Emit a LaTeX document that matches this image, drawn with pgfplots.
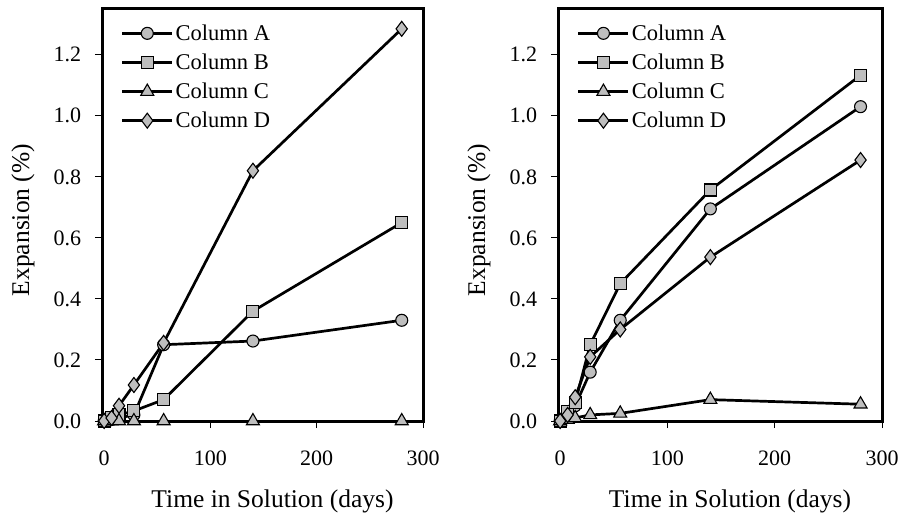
\documentclass[border=0pt]{standalone}
\usepackage{pgfplots}
\pgfplotsset{compat=1.18}
\usepackage{fontspec}
\setmainfont{Liberation Serif}
\definecolor{mk}{RGB}{190,190,190}

\pgfplotsset{
  myaxis/.style={
    scale only axis,
    width=321pt, height=412pt,
    xmin=-2, xmax=300, ymin=0, ymax=1.35,
    clip=false,
    line width=3pt,
    xtick={0,100,200,300},
    ytick={0,0.2,0.4,0.6,0.8,1.0,1.2},
    yticklabel style={/pgf/number format/fixed,/pgf/number format/fixed zerofill,/pgf/number format/precision=1},
    /pgf/number format/assume math mode=true,
    tick align=outside,
    xtick pos=left, ytick pos=left,
    major tick length=7pt,
    tick style={line width=1pt, black},
    ticklabel style={font=\fontsize{22}{22}\selectfont},
    xticklabel style={yshift=-18pt},
    yticklabel style={xshift=-9pt},
    xlabel={Time in Solution (days)},
    ylabel={Expansion (\%)},
    every axis x label/.style={at={(axis description cs:0.5,0)}, anchor=center, yshift=-80pt, xshift=10pt, font=\fontsize{25.5}{25.5}\selectfont},
    every axis y label/.style={at={(axis description cs:0,0.5)}, anchor=center, rotate=90, yshift=79pt, xshift=-5pt, font=\fontsize{25.5}{25.5}\selectfont},
    legend style={draw=none, fill=none, at={(axis description cs:0.045,0.975)}, anchor=north west,
      font=\fontsize{22.5}{22.5}\selectfont, row sep=8pt},
    legend cell align=left,
    legend image code/.code={\draw[mark repeat=2,mark phase=2] plot coordinates {(0pt,0pt)(25pt,0pt)(50pt,0pt)};},
  },
  ser/.style={black, line width=2.7pt, mark options={fill=mk, draw=black, line width=1.1pt, solid}},
}

\pgfplotstableread{
t    A     B     C     D
0    0     0     0     0
7    0.005 0.01  0     0.01
14   0.01  0.02  0     0.05
28   0.02  0.033 0     0.118
56   0.25  0.07  0     0.256
140  0.262 0.36  0     0.82
280  0.33  0.65  0     1.285
}\leftdata

\pgfplotstableread{
t    A     B     C     D
0    0     0     0     0
7    0.02  0.03  0.005 0.02
14   0.05  0.06  0.01  0.078
28   0.16  0.25  0.02  0.21
56   0.33  0.45  0.025 0.30
140  0.695 0.757 0.07  0.537
280  1.03  1.133 0.055 0.855
}\rightdata

\begin{document}
\begin{tikzpicture}[x=1pt,y=1pt]
\path[use as bounding box] (0,0) rectangle (904,514);
\begin{axis}[myaxis, at={(102pt,93pt)}, anchor=south west]
\addplot[ser, mark=*, mark size=6pt] table[x=t,y=A] {\leftdata};
\addplot[ser, mark=square*, mark size=6pt] table[x=t,y=B] {\leftdata};
\addplot[ser, mark=triangle*, mark size=7.5pt] table[x=t,y=C] {\leftdata};
\addplot[ser, mark=diamond*, mark size=7.5pt] table[x=t,y=D] {\leftdata};
\legend{Column A, Column B, Column C, Column D}
\end{axis}
\begin{axis}[myaxis, width=324pt, at={(558pt,93pt)}, anchor=south west]
\addplot[ser, mark=*, mark size=6pt] table[x=t,y=A] {\rightdata};
\addplot[ser, mark=square*, mark size=6pt] table[x=t,y=B] {\rightdata};
\addplot[ser, mark=triangle*, mark size=7.5pt] table[x=t,y=C] {\rightdata};
\addplot[ser, mark=diamond*, mark size=7.5pt] table[x=t,y=D] {\rightdata};
\legend{Column A, Column B, Column C, Column D}
\end{axis}
\end{tikzpicture}
\end{document}
